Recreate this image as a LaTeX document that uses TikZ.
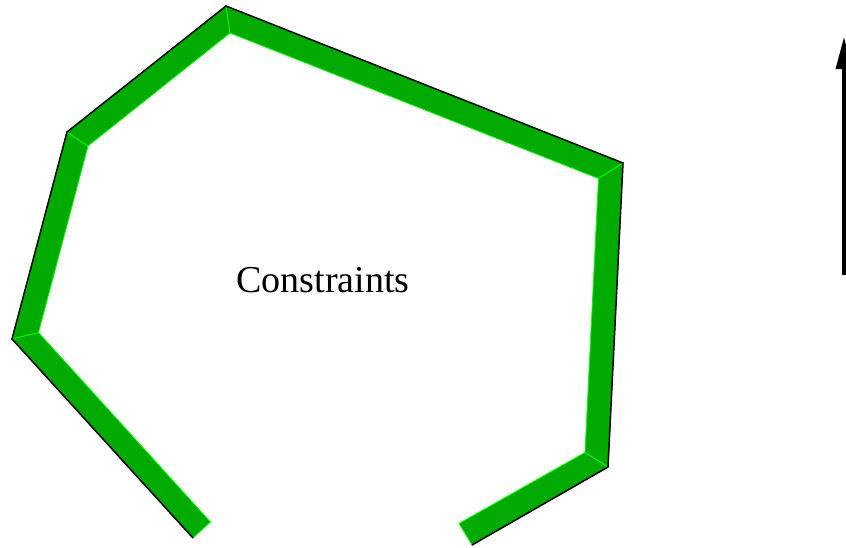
\documentclass[tikz,border=0pt]{standalone}
\usepackage{fontspec}
\setmainfont{Liberation Serif}
\usetikzlibrary{arrows.meta}
\definecolor{bandgreen}{RGB}{0,170,0}
\definecolor{edgegreen}{RGB}{0,255,0}
\tikzset{
  band/.style={fill=bandgreen, draw=edgegreen, line width=0.8pt, line join=miter},
  rim/.style={draw=black, line width=1.5pt, line cap=butt},
  pointer/.style={draw=black, line width=3.5pt, -{Triangle[length=32pt,width=16pt]}}
}
\begin{document}
\begin{tikzpicture}[x=1pt,y=-1pt]
\useasboundingbox (0,0) rectangle (846,547);
% outer corners
\coordinate (o0) at (193,538);
\coordinate (o1) at (12,339);
\coordinate (o2) at (67,132);
\coordinate (o3) at (226,6);
\coordinate (o4) at (623,163);
\coordinate (o5) at (608,467);
\coordinate (o6) at (472,545);
% inner corners
\coordinate (i0) at (210.5,522);
\coordinate (i1) at (38.5,332.5);
\coordinate (i2) at (88,146);
\coordinate (i3) at (230,33);
\coordinate (i4) at (598.5,178.5);
\coordinate (i5) at (585,452.5);
\coordinate (i6) at (459,523.5);
% bands
\draw[band] (o0) -- (o1) -- (i1) -- (i0) -- cycle;
\draw[band] (o1) -- (o2) -- (i2) -- (i1) -- cycle;
\draw[band] (o2) -- (o3) -- (i3) -- (i2) -- cycle;
\draw[band] (o3) -- (o4) -- (i4) -- (i3) -- cycle;
\draw[band] (o4) -- (o5) -- (i5) -- (i4) -- cycle;
\draw[band] (o5) -- (o6) -- (i6) -- (i5) -- cycle;
\draw[rim] (o0) -- (o1) -- (o2) -- (o3) -- (o4) -- (o5) -- (o6);
% label
\node (label) at (323,280) {\fontsize{38}{46}\selectfont Constraints};
% arrow at the right
\coordinate (tail) at (844,275);
\coordinate (tip) at (844,37);
\draw[pointer] (tail) -- (tip);
\end{tikzpicture}
\end{document}
